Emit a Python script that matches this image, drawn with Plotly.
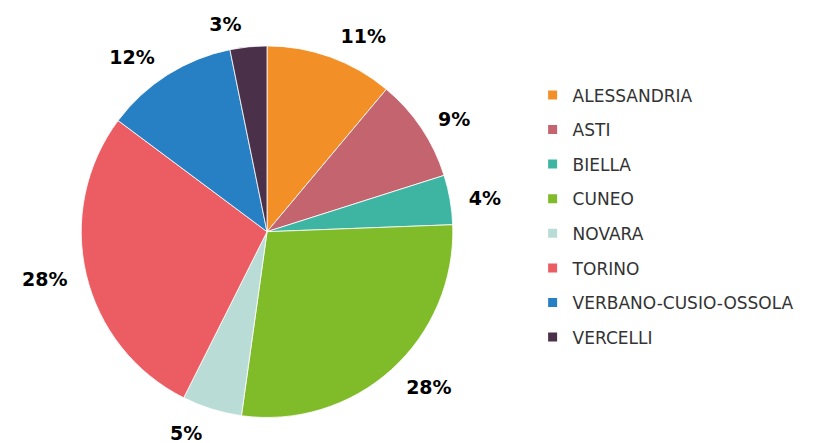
import plotly.graph_objects as go

provinces = ["ALESSANDRIA", "ASTI", "BIELLA", "CUNEO", "NOVARA", "TORINO",
             "VERBANO-CUSIO-OSSOLA", "VERCELLI"]
shares = [11.1, 9.0, 4.3, 27.8, 5.2, 27.8, 11.6, 3.2]
colors = ["#F28F26", "#C4646E", "#3DB5A2", "#80BC2A", "#B9DDD6", "#EB5D62",
          "#2880C4", "#4A3049"]

fig = go.Figure()

# slightly larger, invisible pie that only carries the percentage labels,
# so they sit a bit away from the visible pie like in the original
fig.add_trace(
    go.Pie(labels = provinces,
           values = shares,
           sort = False,
           direction = "clockwise",
           rotation = 0,
           marker = dict(colors = ["rgba(0,0,0,0)"] * len(shares), line = dict(width = 0)),
           texttemplate = "%{percent:.0%}",
           textposition = "outside",
           textfont = dict(family = "DejaVu Sans", size = 19, color = "black", weight = "bold"),
           showlegend = False,
           hoverinfo = "skip",
           domain = dict(x = [0.0694, 0.5615], y = [0.0429, 0.9549])))

fig.add_trace(
    go.Pie(labels = provinces,
           values = shares,
           sort = False,
           direction = "clockwise",
           rotation = 0,
           marker = dict(colors = colors, line = dict(color = "white", width = 0.8)),
           textinfo = "none",
           showlegend = False,
           hoverinfo = "label+percent",
           domain = dict(x = [0.0865, 0.5445], y = [0.0767, 0.927])))

# legend entries as separate traces so the row spacing can be set
for name, col in zip(provinces, colors):
    fig.add_trace(
        go.Scatter(x = [None], y = [None],
                   mode = "markers",
                   name = name,
                   legendgroup = name,
                   marker = dict(symbol = "square", size = 9, color = col)))

fig.update_layout(width = 821, height = 443,
                  margin = dict(l = 0, r = 0, t = 0, b = 0),
                  paper_bgcolor = "white",
                  plot_bgcolor = "white",
                  xaxis = dict(visible = False),
                  yaxis = dict(visible = False),
                  showlegend = True,
                  legend = dict(x = 0.639, y = 0.855, xanchor = "left", yanchor = "top",
                                font = dict(family = "DejaVu Sans", size = 17, color = "#333333"),
                                tracegroupgap = 9.5, itemwidth = 30))

fig.write_html("out.html")
